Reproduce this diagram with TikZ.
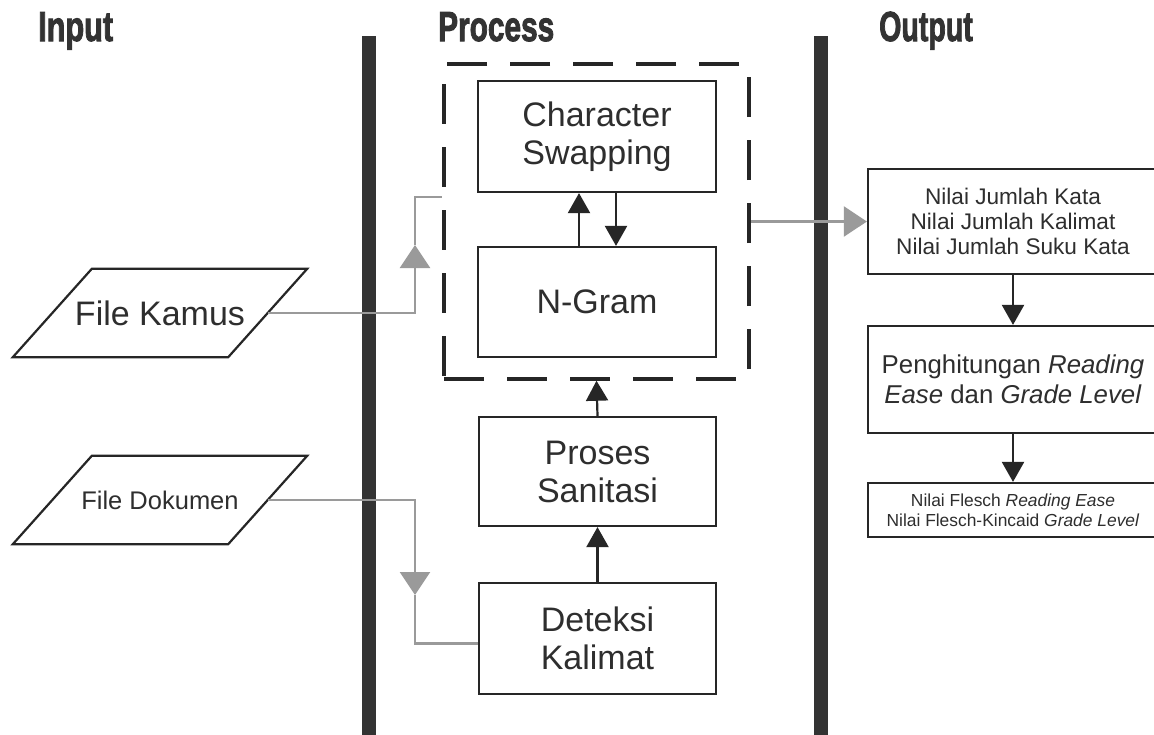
\documentclass[tikz,border=0pt]{standalone}
\usepackage{fontspec}
\setmainfont{Liberation Sans}
\newfontfamily\headfam[BoldFeatures={FakeBold=2.5}]{Liberation Sans}
\usetikzlibrary{arrows.meta,calc}
\definecolor{ink}{HTML}{262626}
\definecolor{txt}{HTML}{2E2E2E}
\definecolor{wire}{HTML}{9A9A9A}
\definecolor{barc}{HTML}{333333}
\newcommand\fsHead{\headfam\fontsize{42}{42}\selectfont\bfseries}
\newcommand\fsMain{\fontsize{34}{38}\selectfont}
\newcommand\fsFileB{\fontsize{25.5}{30}\selectfont}
\newcommand\fsOutA{\fontsize{22.6}{25}\selectfont}
\newcommand\fsOutB{\fontsize{25.8}{30}\selectfont}
\newcommand\fsOutC{\fontsize{17.4}{20}\selectfont}
\begin{document}
\begin{tikzpicture}[x=1pt,y=-1pt,
  box/.style={draw=ink,line width=2.2pt,rectangle,inner sep=0pt,text=txt,align=center},
  filein/.style={rectangle,inner sep=0pt,minimum width=215pt,minimum height=88pt,text=txt},
  parab/.style={draw=ink,line width=2.2pt,line join=miter},
  head/.style={anchor=base west,inner sep=0pt,text=barc,font=\fsHead},
  arr/.style={draw=ink,line width=2.2pt,-{Triangle[width=22pt,length=20pt]}},
  wire/.style={draw=wire,line width=2.4pt},
  warr/.style={wire,-{Triangle[width=30pt,length=23pt]}},
  lane/.style={draw=barc,line width=14pt}
]
\useasboundingbox (0,0) rectangle (1154,734);
\clip (0,0) rectangle (1154,734);
\fill[white] (0,0) rectangle (1154,734);

% column headings
\node[head] (hin) at (38,41) {\scalebox{0.73}[1]{Input}};
\node[head] (hpr) at (438,41) {\scalebox{0.71}[1]{Process}};
\node[head] (hout) at (879,41) {\scalebox{0.68}[1]{Output}};

% lane separators
\coordinate (l1t) at (369,36); \coordinate (l1b) at (369,740);
\coordinate (l2t) at (821,36); \coordinate (l2b) at (821,740);
\draw[lane] (l1t) -- (l1b);
\draw[lane] (l2t) -- (l2b);

% process steps
\node[box,minimum width=238pt,minimum height=111pt,font=\fsMain] (cs) at (597,136.5) {Character\\Swapping};
\node[box,minimum width=238pt,minimum height=110pt,font=\fsMain] (ng) at (597,302) {N-Gram};
\node[box,minimum width=237pt,minimum height=109pt,font=\fsMain] (ps) at (597.5,471.5) {Proses\\Sanitasi};
\node[box,minimum width=237pt,minimum height=111pt,font=\fsMain] (dk) at (597.5,638.5) {Deteksi\\Kalimat};

% dashed group around the correction steps
\node[draw=ink,line width=3.5pt,dash pattern=on 40pt off 23pt,rectangle,inner sep=0pt,
      minimum width=305pt,minimum height=315pt] (grp) at (596.5,221.5) {};

% output boxes
\node[box,minimum width=290pt,minimum height=105pt,font=\fsOutA] (o1) at (1013,221.5)
  {Nilai Jumlah Kata\\Nilai Jumlah Kalimat\\Nilai Jumlah Suku Kata};
\node[box,minimum width=290pt,minimum height=107pt,font=\fsOutB] (o2) at (1013,379.5)
  {Penghitungan \textit{Reading}\\\textit{Ease} dan \textit{Grade Level}};
\node[box,minimum width=290pt,minimum height=54pt,font=\fsOutC] (o3) at (1013,510)
  {Nilai Flesch \textit{Reading Ease}\\Nilai Flesch-Kincaid \textit{Grade Level}};

% input files (parallelograms slanting to the right)
\node[filein,font=\fsMain] (fk) at (160,313) {File Kamus};
\node[filein,font=\fsFileB] (fd) at (160,500) {File Dokumen};
\foreach \f in {fk,fd}{
  \draw[parab] ($(\f.south west)+(-39.5,0)$) -- ($(\f.south east)+(-39.5,0)$)
    -- ($(\f.north east)+(39.5,0)$) -- ($(\f.north west)+(39.5,0)$) -- cycle;
}

% process arrows
\draw[arr] ([xshift=-18pt]ng.north) -- ([xshift=-18pt]cs.south);
\draw[arr] ([xshift=19pt]cs.south) -- ([xshift=19pt]ng.north);
\draw[arr] (ps.north) -- (grp.south);
\draw[arr] (dk.north) -- (ps.south);
\draw[arr] (o1.south) -- (o2.north);
\draw[arr] (o2.south) -- (o3.north);

% input / output connectors
\coordinate (kt) at (415,245);
\coordinate (kb) at (415,197);
\draw[warr] (fk.east) -| (kt);
\draw[wire] (kt) -- (kb) -- (grp.west |- kb);
\coordinate (dt) at (415,595);
\draw[warr] (fd.east) -| (dt);
\draw[wire] (dt) |- ($(dk.west)+(0,5)$);
\draw[warr] (grp.east) -- (o1.west);
\end{tikzpicture}
\end{document}
